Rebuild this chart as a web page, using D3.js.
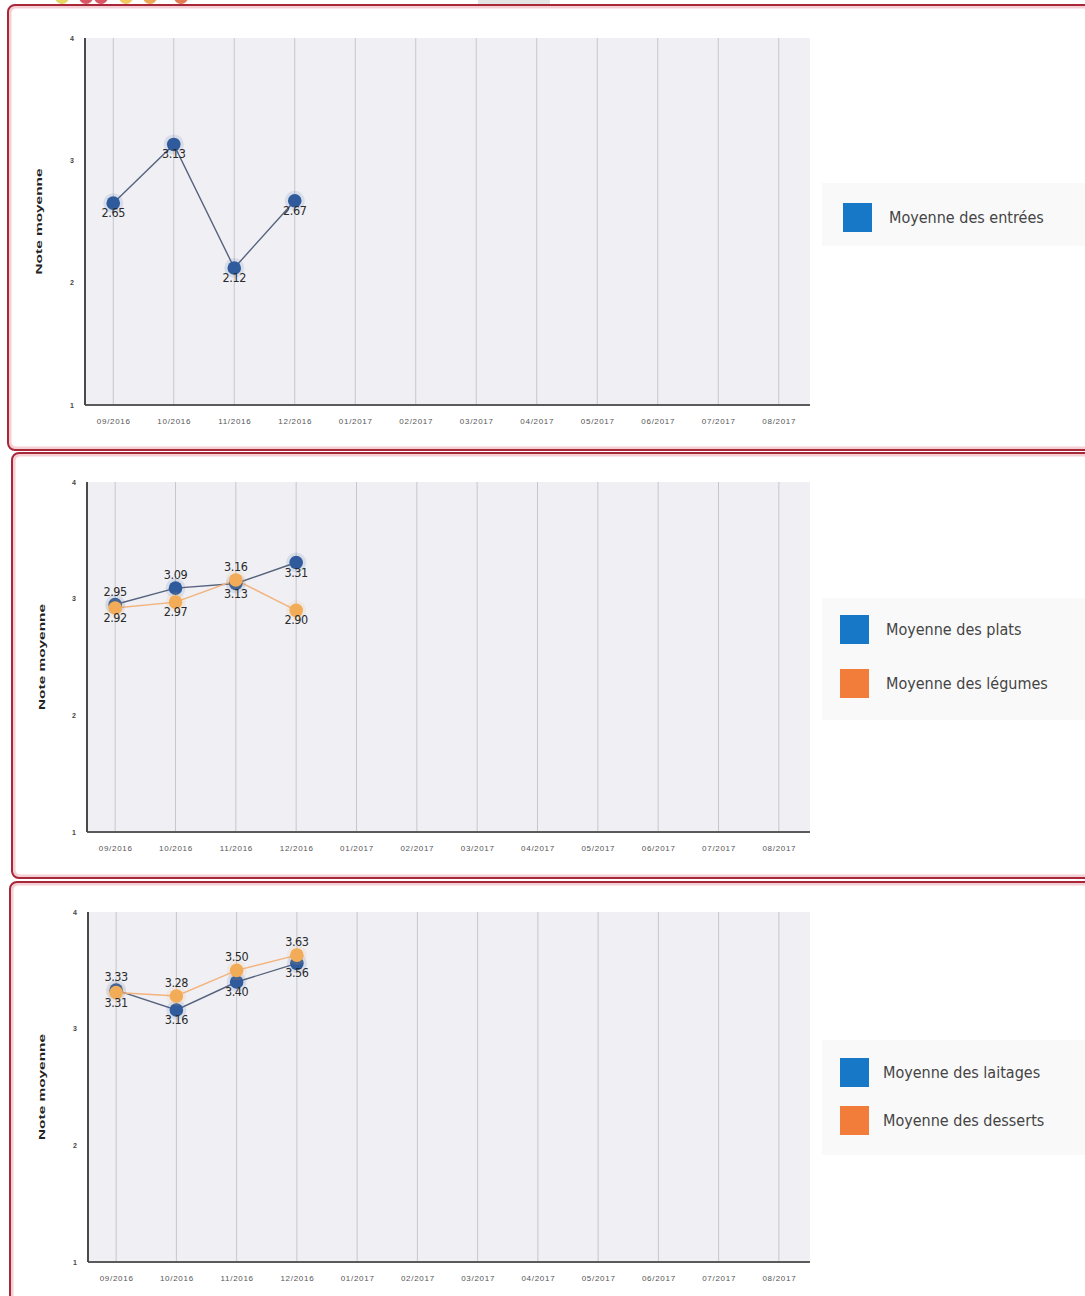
<!DOCTYPE html>
<html>
<head>
<meta charset="utf-8">
<script src="https://cdn.jsdelivr.net/npm/d3@7"></script>
<style>
  html, body { margin: 0; padding: 0; background: #ffffff; }
  svg { display: block; }
  text { font-family: "Liberation Sans", Arial, sans-serif; }
</style>
</head>
<body>
<svg id="chart" width="1085" height="1296"></svg>
<script>
// Months on the x axis
const months = ["09/2016", "10/2016", "11/2016", "12/2016", "01/2017", "02/2017",
                "03/2017", "04/2017", "05/2017", "06/2017", "07/2017", "08/2017"];
// Y axis ticks
const yTicks = [1, 2, 3, 4];

// Average ratings per month (only the first four months are filled)
const entrees  = [2.65, 3.13, 2.12, 2.67];
const plats    = [2.95, 3.09, 3.13, 3.31];
const legumes  = [2.92, 2.97, 3.16, 2.90];
const laitages = [3.33, 3.16, 3.40, 3.56];
const desserts = [3.31, 3.28, 3.50, 3.63];

const seriesNames = {
  entrees: "Moyenne des entrées",
  plats: "Moyenne des plats",
  legumes: "Moyenne des légumes",
  laitages: "Moyenne des laitages",
  desserts: "Moyenne des desserts"
};

const axisTitle = "Note moyenne";

// Styles for the two series kinds
const blueStyle = { marker: "#2f5a9c", line: "#56637e", swatch: "#1678c6" };
const orangeStyle = { marker: "#f2ac58", line: "#f3b37c", swatch: "#f27c3a" };

// Panel layout
const panels = [
  {
    frame: { x: 8, y: 5, h: 445 },
    plot: { left: 85, right: 810, top: 38, bottom: 405 },
    titleX: 42,
    legend: { x: 822, y: 183, h: 63, sx: 843, sy: 203, tx: 889, gap: 0 },
    series: [{ key: "entrees", values: entrees, style: blueStyle }]
  },
  {
    frame: { x: 12, y: 453, h: 425 },
    plot: { left: 87, right: 810, top: 482, bottom: 832 },
    titleX: 45,
    legend: { x: 822, y: 598, h: 122, sx: 840, sy: 615, tx: 886, gap: 54 },
    series: [
      { key: "plats", values: plats, style: blueStyle },
      { key: "legumes", values: legumes, style: orangeStyle }
    ]
  },
  {
    frame: { x: 10, y: 882, h: 440 },
    plot: { left: 88, right: 810, top: 912, bottom: 1262 },
    titleX: 45,
    legend: { x: 822, y: 1040, h: 115, sx: 840, sy: 1058, tx: 883, gap: 48 },
    series: [
      { key: "laitages", values: laitages, style: blueStyle },
      { key: "desserts", values: desserts, style: orangeStyle }
    ]
  }
];

const svg = d3.select("#chart");

// Partly visible toolbar icons along the top edge
const icons = [
  { x: 62, c: "#e2cf4a" }, { x: 86, c: "#d2384a" }, { x: 101, c: "#d2384a" },
  { x: 126, c: "#f0c048" }, { x: 150, c: "#e89a3a" }, { x: 181, c: "#e06434" }
];
svg.selectAll("circle.icon").data(icons).join("circle")
  .attr("class", "icon")
  .attr("cx", d => d.x).attr("cy", -3).attr("r", 7)
  .attr("fill", d => d.c).attr("opacity", 0.85);
svg.append("rect").attr("x", 478).attr("y", 0).attr("width", 72).attr("height", 4)
  .attr("fill", "#e4e4e4");

panels.forEach(p => {
  const g = svg.append("g");
  const { left, right, top, bottom } = p.plot;

  // Red frame around the panel (open on the right side)
  g.append("rect")
    .attr("x", p.frame.x + 2).attr("y", p.frame.y + 2)
    .attr("width", 1200).attr("height", p.frame.h - 4)
    .attr("rx", 6)
    .attr("fill", "none").attr("stroke", "#f4d0d4").attr("stroke-width", 3);
  g.append("rect")
    .attr("x", p.frame.x).attr("y", p.frame.y)
    .attr("width", 1200).attr("height", p.frame.h)
    .attr("rx", 7)
    .attr("fill", "none").attr("stroke", "#a8283a").attr("stroke-width", 2);

  const x = d3.scalePoint().domain(months).range([left - 2, right - 1]).padding(0.5);
  const y = d3.scaleLinear().domain([1, 4]).range([bottom, top]);

  // Plot background
  g.append("rect")
    .attr("x", left).attr("y", top)
    .attr("width", right - left).attr("height", bottom - top)
    .attr("fill", "#efeff4");

  // Vertical gridlines, one per month
  g.append("g").selectAll("line").data(months).join("line")
    .attr("x1", d => x(d)).attr("x2", d => x(d))
    .attr("y1", top).attr("y2", bottom)
    .attr("stroke", "#c6c6ce").attr("stroke-width", 1);

  // X axis
  const xAxis = g.append("g")
    .attr("transform", `translate(0,${bottom})`)
    .call(d3.axisBottom(x).tickSize(0).tickPadding(13));
  xAxis.select(".domain")
    .attr("d", `M${left},0H${right}`)
    .attr("stroke", "#5a5a5a").attr("stroke-width", 2);
  xAxis.selectAll("text")
    .attr("font-size", 8).attr("fill", "#555")
    .attr("letter-spacing", 0.7)
    .style("font-family", "'Liberation Sans', Arial, sans-serif");

  // Y axis
  const yAxis = g.append("g")
    .attr("transform", `translate(${left},0)`)
    .call(d3.axisLeft(y).tickValues(yTicks).tickFormat(d3.format("d")).tickSize(0).tickPadding(11));
  yAxis.select(".domain")
    .attr("d", `M0,${top}V${bottom}`)
    .attr("stroke", "#4a4a4a").attr("stroke-width", 2);
  yAxis.selectAll("text")
    .attr("font-size", 7).attr("font-weight", "bold").attr("fill", "#444")
    .style("font-family", "'Liberation Sans', Arial, sans-serif");

  // Y axis title
  g.append("text")
    .attr("transform", `translate(${p.titleX},${(top + bottom) / 2}) rotate(-90)`)
    .attr("text-anchor", "middle")
    .attr("font-size", 9.5).attr("font-weight", "bold").attr("fill", "#222")
    .attr("textLength", 106).attr("lengthAdjust", "spacingAndGlyphs")
    .text(axisTitle);

  const line = d3.line()
    .x((d, i) => x(months[i]))
    .y(d => y(d));

  // Lines and markers
  p.series.forEach(s => {
    g.append("path")
      .datum(s.values)
      .attr("d", line)
      .attr("fill", "none")
      .attr("stroke", s.style.line)
      .attr("stroke-width", 1.4);
  });
  p.series.forEach(s => {
    const mg = g.append("g");
    mg.selectAll("circle.halo").data(s.values).join("circle")
      .attr("class", "halo")
      .attr("cx", (d, i) => x(months[i])).attr("cy", d => y(d))
      .attr("r", 10).attr("fill", s.style.marker).attr("opacity", 0.12);
    mg.selectAll("circle.dot").data(s.values).join("circle")
      .attr("class", "dot")
      .attr("cx", (d, i) => x(months[i])).attr("cy", d => y(d))
      .attr("r", 6.8).attr("fill", s.style.marker);
  });

  // Value labels: below the point, or above it when another series sits close by and lower
  const labelY = (si, i) => {
    const v = p.series[si].values[i];
    const crowdedAbove = p.series.some((o, oi) => oi !== si &&
      Math.abs(y(o.values[i]) - y(v)) < 16 && o.values[i] < v);
    return crowdedAbove ? y(v) - 9 : y(v) + 14;
  };
  p.series.forEach((s, si) => {
    g.append("g").selectAll("text").data(s.values).join("text")
      .attr("x", (d, i) => x(months[i]))
      .attr("y", (d, i) => labelY(si, i))
      .attr("text-anchor", "middle")
      .attr("font-size", 12.5)
      .attr("fill", "#2a2a2a")
      .style("font-family", "'DejaVu Sans Condensed', 'Liberation Sans Narrow', sans-serif")
      .attr("letter-spacing", -0.4)
      .text(d => d3.format(".2f")(d));
  });

  // Legend
  const L = p.legend;
  g.append("rect")
    .attr("x", L.x).attr("y", L.y).attr("width", 270).attr("height", L.h)
    .attr("fill", "#f9f9fa");
  p.series.forEach((s, i) => {
    g.append("rect")
      .attr("x", L.sx).attr("y", L.sy + i * L.gap)
      .attr("width", 29).attr("height", 29)
      .attr("fill", s.style.swatch);
    g.append("text")
      .attr("x", L.tx).attr("y", L.sy + i * L.gap + 20)
      .attr("font-size", 16).attr("fill", "#444")
      .style("font-family", "'Liberation Sans Narrow', 'DejaVu Sans Condensed', sans-serif")
      .text(seriesNames[s.key]);
  });
});
</script>
</body>
</html>
